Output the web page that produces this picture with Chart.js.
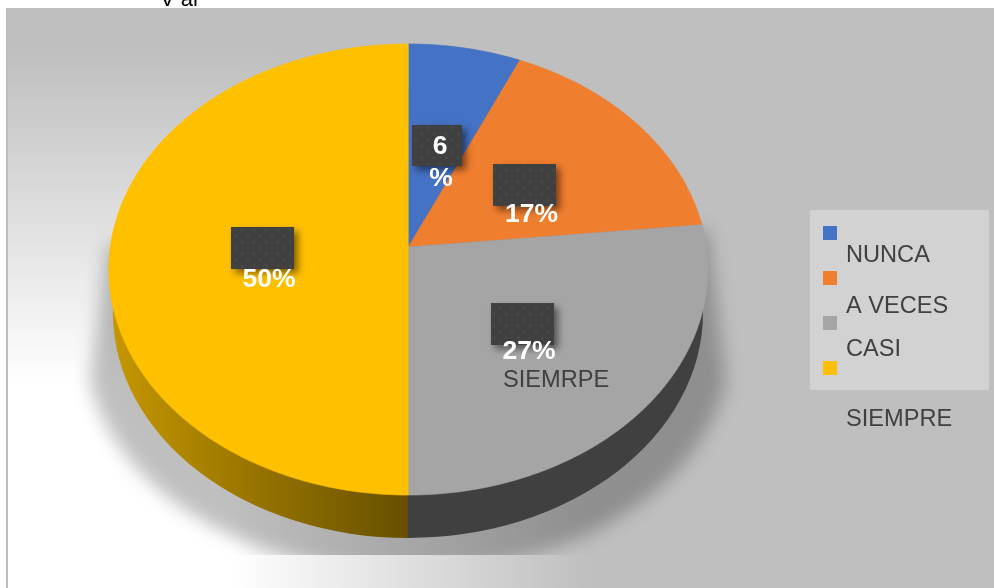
<!DOCTYPE html>
<html>
<head>
<meta charset="utf-8">
<title>Pie</title>
<script src="https://cdn.jsdelivr.net/npm/chart.js@4/dist/chart.umd.min.js"></script>
<style>
  html, body { margin: 0; padding: 0; background: #fff; }
  canvas { display: block; }
</style>
</head>
<body>
<canvas id="chart" width="994" height="588"></canvas>
<script>
const categories = ["NUNCA", "A VECES", "CASI", "SIEMPRE"];
const shares = [6.7, 16.7, 26.6, 50];
const shareLabels = [["6", "%"], ["17%"], ["27%"], ["50%"]];
const sliceColors = ["#4472c4", "#f07e2f", "#a5a5a5", "#ffc000"];
const strayLabel = "SIEMRPE";
const cutTitle = "V al";

// Projected disc: the tilt puts the slice vertex above the middle of the ellipse.
const disc = { x: 408.3, y: 247, a: 298, b: 223.3, k: -0.0998 };
const rim = { x: 408, y: 313, rx: 295, ry: 225 };
const FONT = '"Liberation Sans", Arial, sans-serif';

function project(angle) {
  const X = Math.cos(angle), Y = Math.sin(angle);
  const w = 1 + disc.k * Y;
  return [disc.x + disc.a * X / w, disc.y + disc.b * Y / w];
}

function drawBackground(ctx) {
  ctx.fillStyle = "#fff";
  ctx.fillRect(0, 0, 994, 588);
  ctx.fillStyle = "#bfbfbf";
  ctx.fillRect(6, 8, 988, 580);

  // White fade toward the lower left.
  const off = document.createElement("canvas");
  off.width = 994; off.height = 588;
  const o = off.getContext("2d");
  const across = o.createLinearGradient(230, 0, 590, 0);
  across.addColorStop(0, "rgba(255,255,255,1)");
  across.addColorStop(1, "rgba(255,255,255,0)");
  o.fillStyle = across;
  o.fillRect(0, 0, 994, 588);
  o.globalCompositeOperation = "destination-in";
  const down = o.createLinearGradient(0, 50, 0, 385);
  down.addColorStop(0, "rgba(0,0,0,0)");
  down.addColorStop(1, "rgba(0,0,0,1)");
  o.fillStyle = down;
  o.fillRect(0, 0, 994, 588);
  ctx.drawImage(off, 0, 0);

  ctx.fillStyle = "#bdbdbd";
  ctx.fillRect(6, 8, 2, 580);

  ctx.save();
  ctx.beginPath();
  ctx.rect(0, 0, 994, 8);
  ctx.clip();
  ctx.fillStyle = "#000";
  ctx.font = "22px " + FONT;
  ctx.fillText(cutTitle, 160, 6);
  ctx.restore();
}

function drawShadow(ctx) {
  ctx.save();
  ctx.beginPath();
  ctx.rect(0, 8, 994, 547);
  ctx.clip();
  ctx.filter = "blur(9px)";
  ctx.fillStyle = "rgba(0,0,0,0.25)";
  ctx.beginPath();
  ctx.moveTo(108, 245);
  ctx.lineTo(708, 230);
  ctx.lineTo(728, 400);
  ctx.ellipse(408, 345, 322, 228, 0, 0.16, Math.PI - 0.16);
  ctx.closePath();
  ctx.fill();
  ctx.restore();
}

function drawRim(ctx, arcs) {
  const warm = ctx.createLinearGradient(115, 0, 408, 0);
  warm.addColorStop(0, "#c49600");
  warm.addColorStop(1, "#664f00");
  const rimFills = ["#223962", "#8f4a1b", "#404040", warm];
  arcs.forEach((arc, i) => {
    ctx.fillStyle = rimFills[i];
    ctx.beginPath();
    ctx.moveTo(rim.x, rim.y);
    ctx.ellipse(rim.x, rim.y, rim.rx, rim.ry, 0, arc.startAngle, arc.endAngle);
    ctx.closePath();
    ctx.fill();
  });
}

function drawSlice(ctx, arc, color) {
  ctx.fillStyle = color;
  ctx.strokeStyle = color;
  ctx.lineWidth = 0.6;
  ctx.beginPath();
  ctx.moveTo(disc.x, disc.y);
  const steps = Math.ceil((arc.endAngle - arc.startAngle) / 0.008);
  for (let s = 0; s <= steps; s++) {
    const [px, py] = project(arc.startAngle + (arc.endAngle - arc.startAngle) * s / steps);
    ctx.lineTo(px, py);
  }
  ctx.closePath();
  ctx.fill();
  ctx.stroke();
}

function dottedFill(ctx) {
  const tile = document.createElement("canvas");
  tile.width = 12; tile.height = 12;
  const t = tile.getContext("2d");
  t.fillStyle = "#404040";
  t.fillRect(0, 0, 12, 12);
  t.fillStyle = "#494949";
  [[2, 2], [8, 8]].forEach(([x, y]) => {
    t.beginPath();
    t.arc(x, y, 1.4, 0, Math.PI * 2);
    t.fill();
  });
  return ctx.createPattern(tile, "repeat");
}

const labelBoxes = [
  [412, 125, 50, 41],
  [493, 164, 63, 42],
  [491, 303, 63, 42],
  [231, 227, 63, 42],
];
const labelSpots = [
  [[440, 154], [441, 186]],
  [[531.5, 222]],
  [[529, 359]],
  [[269, 287]],
];

function drawLabels(ctx) {
  const dots = dottedFill(ctx);
  labelBoxes.forEach(([x, y, w, h]) => {
    ctx.save();
    ctx.shadowColor = "rgba(0,0,0,0.5)";
    ctx.shadowBlur = 7;
    ctx.shadowOffsetX = 4;
    ctx.shadowOffsetY = 4;
    ctx.fillStyle = "#404040";
    ctx.fillRect(x, y, w, h);
    ctx.restore();
    ctx.fillStyle = dots;
    ctx.fillRect(x, y, w, h);
  });
  ctx.fillStyle = "#fff";
  ctx.font = "bold 26.5px " + FONT;
  ctx.textAlign = "center";
  shareLabels.forEach((lines, i) => {
    lines.forEach((line, j) => {
      ctx.fillText(line, labelSpots[i][j][0], labelSpots[i][j][1]);
    });
  });
  ctx.textAlign = "left";
  ctx.fillStyle = "#404040";
  ctx.font = "23.6px " + FONT;
  ctx.fillText(strayLabel, 503, 387);
}

const legendSquares = [226, 271, 316, 361];
const legendBaselines = [262, 313, 356, 426];

function drawLegend(ctx, colors) {
  ctx.fillStyle = "#d2d2d2";
  ctx.fillRect(810, 210, 179, 180);
  colors.forEach((color, i) => {
    ctx.fillStyle = color;
    ctx.fillRect(823, legendSquares[i], 14, 14);
  });
  ctx.fillStyle = "#404040";
  ctx.font = "23.6px " + FONT;
  categories.forEach((name, i) => {
    ctx.fillText(name, 846, legendBaselines[i]);
  });
}

const tiltedPie = {
  id: "tiltedPie",
  beforeDraw(chart) {
    drawBackground(chart.ctx);
  },
  beforeDatasetDraw(chart) {
    const ctx = chart.ctx;
    const arcs = chart.getDatasetMeta(0).data;
    drawShadow(ctx);
    drawRim(ctx, arcs);
    arcs.forEach((arc) => drawSlice(ctx, arc, arc.options.backgroundColor));
    return false;
  },
  afterDatasetsDraw(chart) {
    drawLabels(chart.ctx);
    drawLegend(chart.ctx, chart.data.datasets[0].backgroundColor);
  },
};

new Chart(document.getElementById("chart"), {
  type: "pie",
  data: {
    labels: categories,
    datasets: [{ data: shares, backgroundColor: sliceColors, borderWidth: 0 }],
  },
  options: {
    responsive: false,
    animation: false,
    events: [],
    plugins: { legend: { display: false }, tooltip: { enabled: false } },
  },
  plugins: [tiltedPie],
});
</script>
</body>
</html>
